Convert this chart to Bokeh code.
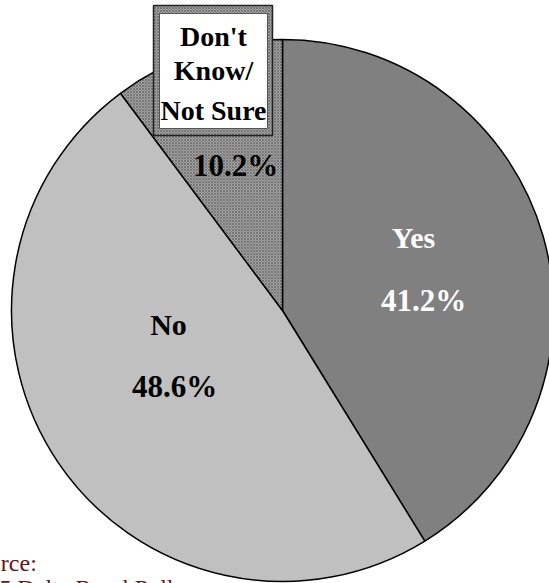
import math
from bokeh.plotting import figure
from bokeh.models import Range1d
from bokeh.core.properties import value
from bokeh.embed import file_html
from bokeh.resources import INLINE

# ---- data ----
categories = ["Yes", "No", "Don't Know/Not Sure"]
percents = [41.2, 48.6, 10.2]
pct_labels = ["41.2%", "48.6%", "10.2%"]
source_lines = ["Source:", "2005 Delta Rural Poll"]

# ---- layout / style ----
W, H = 549, 583
CX, CY_S, R = 282, 310, 271          # centre (screen coords) and radius
fills = ["#808080", "#c0c0c0", "#a4a4a4"]
hatches = [None, None, "x"]
label_colors = ["white", "black", "black"]

def Y(ys):
    return H - ys

p = figure(width=W, height=H, x_range=Range1d(0, W), y_range=Range1d(0, H),
           output_backend="svg", toolbar_location=None,
           x_axis_type=None, y_axis_type=None, min_border=0,
           outline_line_color=None, background_fill_color="white",
           border_fill_color="white")
p.grid.visible = False

# wedges, clockwise from 12 o'clock
cum = 0.0
for i, pct in enumerate(percents):
    start_cw = cum / 100 * 2 * math.pi
    end_cw = (cum + pct) / 100 * 2 * math.pi
    cum += pct
    kw = {}
    if hatches[i]:
        kw = dict(hatch_pattern=hatches[i], hatch_color="#6a6a6a",
                  hatch_scale=3, hatch_weight=1, hatch_alpha=0.8)
    p.wedge(x=CX, y=Y(CY_S), radius=R,
            start_angle=math.pi / 2 - end_cw, end_angle=math.pi / 2 - start_cw,
            direction="anticlock", fill_color=fills[i],
            line_color="black", line_width=1.5, **kw)

font = value("Liberation Serif")

# category / percent labels (screen positions)
name_pos = {"Yes": (413, 237), "No": (168, 324)}
pct_pos = [(423, 300), (174, 386), (235, 165)]
for i, cat in enumerate(categories):
    if cat in name_pos:
        x, ys = name_pos[cat]
        p.text(x=[x], y=[Y(ys)], text=[cat], text_font=font, text_font_style="bold",
               text_font_size="30px", text_color=label_colors[i],
               text_align="center", text_baseline="middle")
    x, ys = pct_pos[i]
    p.text(x=[x], y=[Y(ys)], text=[pct_labels[i]], text_font=font,
           text_font_style="bold", text_font_size="31px",
           text_color=label_colors[i], text_align="center", text_baseline="middle")

# boxed label for "Don't Know / Not Sure"
p.quad(left=153, right=272, top=Y(5), bottom=Y(135), fill_color="#a4a4a4",
       hatch_pattern="x", hatch_color="#6a6a6a", hatch_scale=3, hatch_weight=1,
       hatch_alpha=0.8, line_color="#222222", line_width=1.5)
p.quad(left=159, right=267, top=Y(13), bottom=Y(128), fill_color="white",
       line_color="#555555", line_width=1)
dk_lines = ["Don't", "Know/", "Not Sure"]
dk_y = [36, 70, 110]
p.text(x=[213] * 3, y=[Y(v) for v in dk_y], text=dk_lines, text_font=font,
       text_font_style="bold", text_font_size="28px", text_color="black",
       text_align="center", text_baseline="middle")

# source note, partly cut off at the left/bottom edges (as in the reference)
p.text(x=[-37, -37], y=[Y(562), Y(587)], text=source_lines, text_font=font,
       text_font_size="24px", text_color="#661515",
       text_align="left", text_baseline="alphabetic")

open("out.html", "w").write(file_html(p, INLINE))
